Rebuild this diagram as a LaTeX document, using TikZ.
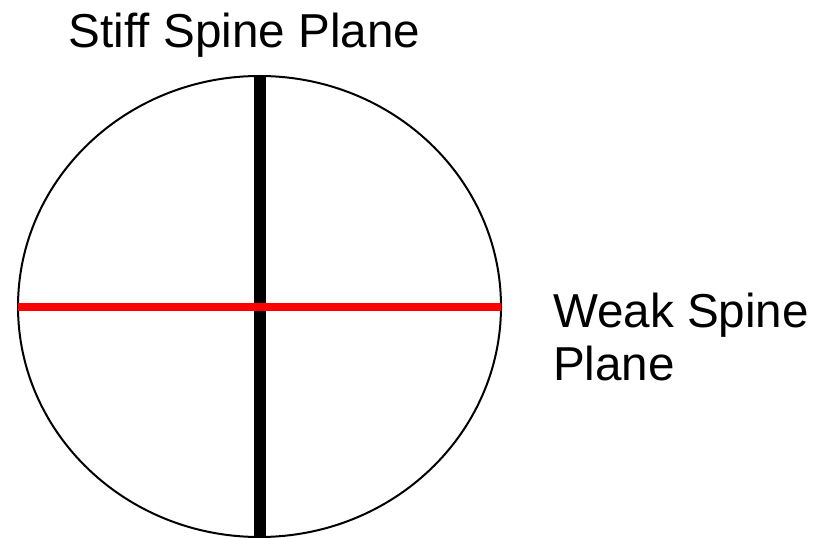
\documentclass[tikz,border=0pt]{standalone}
\usepackage{fontspec}
\setmainfont{Liberation Sans}
\usetikzlibrary{shapes.geometric}
\begin{document}
\begin{tikzpicture}[x=0.75pt,y=-0.75pt,
  lbl/.style={inner sep=0pt,outer sep=0pt,anchor=base west,font=\fontsize{35.7}{40}\selectfont},
  rim/.style={draw=black,line width=1.5pt,ellipse,inner sep=0pt,outer sep=0pt,minimum width=362.25pt,minimum height=345.75pt},
  stiffline/.style={draw=black,line width=9pt},
  weakline/.style={draw=red,line width=6pt}]
\useasboundingbox (0,0) rectangle (817,538);
\node[rim] (disk) at (259.5,306.5) {};
\coordinate (bot) at (259.5,540);
\draw[stiffline] (disk.north) -- (bot);
\draw[weakline] (disk.west) -- (disk.east);
\node[lbl,anchor=base] (stiff) at (244.5,48) {Stiff Spine Plane};
\node[lbl] (weak1) at (553,327) {Weak Spine};
\node[lbl] (weak2) at (553,380.5) {Plane};
\end{tikzpicture}
\end{document}
